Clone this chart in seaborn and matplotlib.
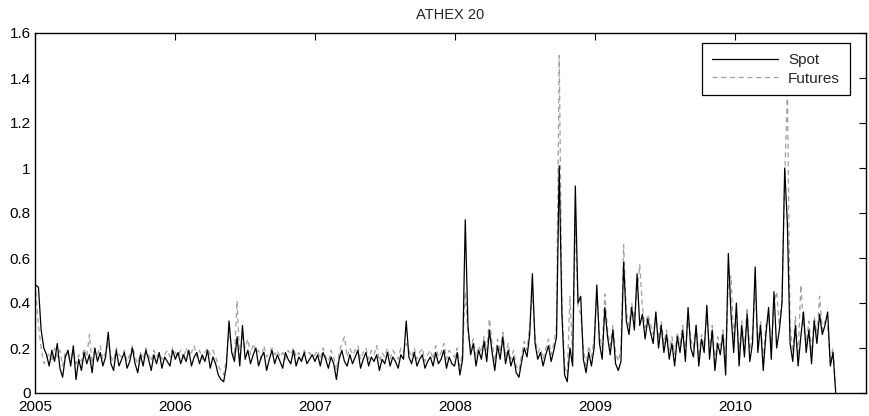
import numpy as np
import pandas as pd
import matplotlib
matplotlib.use("Agg")
import matplotlib.pyplot as plt
from matplotlib.ticker import FuncFormatter
import seaborn as sns

# Weekly readings (approximate) of the volatility series, Jan 2005 - Sep 2010
spot_2005 = [0.48,0.47,0.28,0.20,0.17,0.12,0.19,0.14,0.22,0.11,
             0.07,0.16,0.19,0.12,0.21,0.06,0.15,0.10,0.18,0.13,
             0.17,0.09,0.20,0.14,0.18,0.12,0.16,0.27,0.13,0.10,
             0.19,0.12,0.15,0.18,0.11,0.14,0.20,0.13,0.09,0.17,
             0.12,0.19,0.15,0.10,0.17,0.13,0.18,0.11,0.16,0.14,
             0.12,0.19]
spot_2006 = [0.15,0.18,0.13,0.17,0.14,0.19,0.12,0.16,0.18,0.13,
             0.17,0.14,0.19,0.11,0.16,0.13,0.08,0.06,0.05,0.12,
             0.32,0.18,0.14,0.25,0.12,0.30,0.15,0.19,0.13,0.17,
             0.20,0.12,0.16,0.18,0.10,0.15,0.19,0.13,0.17,0.14,
             0.11,0.18,0.15,0.13,0.19,0.12,0.16,0.14,0.18,0.13,
             0.15,0.17]
spot_2007 = [0.14,0.17,0.12,0.18,0.15,0.11,0.16,0.13,0.06,0.15,
             0.19,0.14,0.12,0.17,0.13,0.16,0.19,0.11,0.15,0.18,
             0.12,0.16,0.14,0.17,0.10,0.15,0.13,0.18,0.12,0.16,
             0.14,0.11,0.17,0.15,0.32,0.16,0.13,0.18,0.12,0.15,
             0.17,0.11,0.14,0.16,0.12,0.18,0.13,0.15,0.19,0.11,
             0.16,0.13]
spot_2008 = [0.12,0.18,0.08,0.15,0.77,0.30,0.17,0.22,0.12,0.19,
             0.15,0.23,0.14,0.28,0.18,0.10,0.21,0.15,0.25,0.13,
             0.19,0.12,0.16,0.09,0.07,0.14,0.20,0.16,0.26,0.53,
             0.22,0.15,0.18,0.12,0.17,0.21,0.14,0.19,0.25,1.01,
             0.35,0.08,0.05,0.20,0.12,0.92,0.40,0.43,0.15,0.09,
             0.18,0.12]
spot_2009 = [0.20,0.48,0.22,0.15,0.38,0.25,0.17,0.28,0.13,0.10,
             0.14,0.58,0.32,0.26,0.38,0.28,0.53,0.30,0.35,0.24,
             0.33,0.27,0.22,0.36,0.20,0.30,0.18,0.26,0.15,0.22,
             0.12,0.25,0.18,0.28,0.14,0.38,0.20,0.16,0.30,0.12,
             0.24,0.18,0.39,0.15,0.28,0.10,0.22,0.17,0.26,0.08,
             0.62,0.35]
spot_2010 = [0.18,0.40,0.12,0.30,0.16,0.35,0.14,0.22,0.56,0.18,
             0.30,0.10,0.26,0.38,0.15,0.45,0.20,0.28,0.40,1.00,
             0.75,0.22,0.14,0.30,0.12,0.25,0.36,0.18,0.28,0.13,
             0.32,0.22,0.35,0.26,0.30,0.36,0.12,0.18,0.00]

fut_2005 = [0.45,0.30,0.20,0.13,0.15,0.18,0.14,0.20,0.16,0.19,
            0.12,0.18,0.17,0.15,0.19,0.13,0.17,0.14,0.20,0.16,
            0.26,0.13,0.19,0.17,0.21,0.15,0.18,0.22,0.16,0.14,
            0.20,0.17,0.16,0.19,0.14,0.17,0.21,0.16,0.13,0.18,
            0.15,0.20,0.17,0.14,0.19,0.16,0.18,0.15,0.17,0.19,
            0.16,0.20]
fut_2006 = [0.18,0.16,0.19,0.15,0.20,0.17,0.18,0.21,0.16,0.19,
            0.15,0.18,0.20,0.17,0.19,0.16,0.12,0.10,0.08,0.15,
            0.28,0.20,0.16,0.41,0.15,0.25,0.20,0.24,0.17,0.22,
            0.18,0.19,0.15,0.21,0.16,0.18,0.20,0.17,0.19,0.16,
            0.18,0.15,0.19,0.17,0.20,0.16,0.18,0.15,0.19,0.17,
            0.18,0.16]
fut_2007 = [0.17,0.19,0.15,0.20,0.16,0.14,0.19,0.16,0.10,0.18,
            0.22,0.25,0.16,0.20,0.17,0.19,0.21,0.15,0.18,0.20,
            0.15,0.19,0.17,0.21,0.14,0.18,0.16,0.20,0.15,0.19,
            0.17,0.15,0.20,0.18,0.22,0.19,0.16,0.20,0.15,0.18,
            0.20,0.14,0.17,0.19,0.15,0.21,0.16,0.18,0.22,0.15,
            0.19,0.17]
fut_2008 = [0.16,0.20,0.12,0.18,0.45,0.26,0.20,0.24,0.16,0.21,
            0.18,0.25,0.19,0.33,0.22,0.14,0.24,0.18,0.27,0.16,
            0.22,0.15,0.19,0.12,0.10,0.17,0.23,0.19,0.30,0.45,
            0.25,0.18,0.20,0.15,0.20,0.24,0.17,0.22,0.30,1.50,
            0.40,0.12,0.08,0.43,0.16,0.75,0.38,0.35,0.20,0.12,
            0.21,0.16]
fut_2009 = [0.24,0.45,0.26,0.20,0.44,0.28,0.21,0.30,0.18,0.14,
            0.20,0.66,0.36,0.30,0.40,0.33,0.45,0.57,0.38,0.29,
            0.35,0.31,0.26,0.34,0.24,0.32,0.22,0.28,0.19,0.25,
            0.17,0.27,0.22,0.30,0.18,0.34,0.24,0.20,0.31,0.16,
            0.26,0.21,0.35,0.19,0.30,0.14,0.25,0.21,0.28,0.12,
            0.48,0.52]
fut_2010 = [0.24,0.36,0.18,0.32,0.20,0.38,0.19,0.26,0.45,0.22,
            0.32,0.15,0.30,0.35,0.20,0.40,0.45,0.30,0.42,0.95,
            1.35,0.30,0.18,0.34,0.16,0.48,0.30,0.22,0.32,0.18,
            0.34,0.26,0.43,0.28,0.32,0.30,0.14,0.20,0.02]

spot = spot_2005 + spot_2006 + spot_2007 + spot_2008 + spot_2009 + spot_2010
futures = fut_2005 + fut_2006 + fut_2007 + fut_2008 + fut_2009 + fut_2010
dates = pd.date_range("2005-01-03", periods=len(spot), freq="7D")

year_ticks = ["2005", "2006", "2007", "2008", "2009", "2010"]
y_ticks = [0, 0.2, 0.4, 0.6, 0.8, 1.0, 1.2, 1.4, 1.6]

df_spot = pd.DataFrame({"date": dates, "value": spot})
df_fut = pd.DataFrame({"date": dates, "value": futures})

sns.set_style("white")
plt.rcParams["font.family"] = ["Liberation Sans", "DejaVu Sans"]

fig = plt.figure(figsize=(8.69, 4.16), dpi=100)
ax = fig.add_axes([35/869, 23/416, 831/869, 360/416])

sns.lineplot(data=df_fut, x="date", y="value", ax=ax, color="#a0a0a0",
             linewidth=0.9, linestyle=(0, (4, 3)), label="Futures", zorder=2)
sns.lineplot(data=df_spot, x="date", y="value", ax=ax, color="black",
             linewidth=0.9, label="Spot", zorder=3)

ax.set_xlim(pd.Timestamp("2005-01-01"), pd.Timestamp("2010-12-08"))
ax.set_ylim(0, 1.6)
ax.set_xticks([pd.Timestamp(y + "-01-01") for y in year_ticks])
ax.set_xticklabels(year_ticks)
ax.set_yticks(y_ticks)
ax.yaxis.set_major_formatter(FuncFormatter(lambda v, p: "%g" % round(v, 1)))
ax.set_xlabel("")
ax.set_ylabel("")
ax.set_title("ATHEX 20", fontsize=10.5, pad=10)

for s in ax.spines.values():
    s.set_visible(True)
    s.set_color("black")
    s.set_linewidth(1.0)
ax.tick_params(direction="in", length=5, width=0.8, top=True, right=True,
               labelsize=11, colors="black")
ax.tick_params(axis="y", pad=3)
ax.tick_params(axis="x", pad=5)

h, l = ax.get_legend_handles_labels()
order = [l.index("Spot"), l.index("Futures")]
leg = ax.legend([h[i] for i in order], [l[i] for i in order], loc="upper right",
                bbox_to_anchor=((850 - 35) / 831, (393 - 43) / 360),
                borderaxespad=0, fontsize=11, frameon=True,
                fancybox=False, edgecolor="black", framealpha=1,
                handlelength=4.3, handletextpad=0.7, borderpad=0.65,
                labelspacing=0.3)
leg.get_frame().set_linewidth(0.9)

fig.savefig("out.png", dpi=100)
